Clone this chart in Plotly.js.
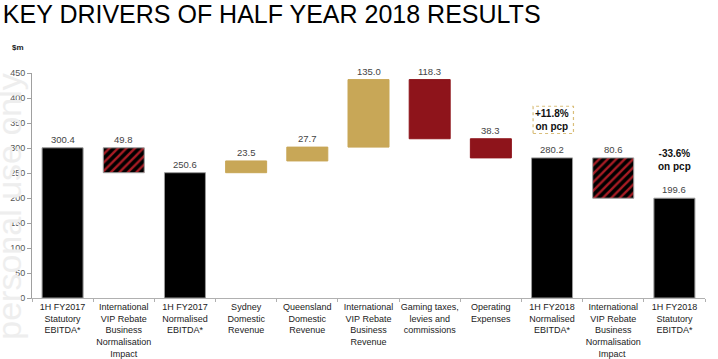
<!DOCTYPE html>
<html>
<head>
<meta charset="utf-8">
<script src="https://cdn.plot.ly/plotly-3.0.1.min.js"></script>
<style>html,body{margin:0;padding:0;background:#fff;}#chart{width:718px;height:359px;}</style>
</head>
<body>
<div id="chart"></div>
<script>
const categories = [
  "1H FY2017<br>Statutory<br>EBITDA*",
  "International<br>VIP Rebate<br>Business<br>Normalisation<br>Impact",
  "1H FY2017<br>Normalised<br>EBITDA*",
  "Sydney<br>Domestic<br>Revenue",
  "Queensland<br>Domestic<br>Revenue",
  "International<br>VIP Rebate<br>Business<br>Revenue",
  "Gaming taxes,<br>levies and<br>commissions",
  "Operating<br>Expenses",
  "1H FY2018<br>Normalised<br>EBITDA*",
  "International<br>VIP Rebate<br>Business<br>Normalisation<br>Impact ",
  "1H FY2018<br>Statutory<br>EBITDA*"
];
const values = [300.4, 49.8, 250.6, 23.5, 27.7, 135.0, 118.3, 38.3, 280.2, 80.6, 199.6];
const bases  = [0, 250.6, 0, 250.6, 274.1, 301.8, 318.5, 280.2, 0, 199.6, 0];
const kinds  = ["total","hatch","total","up","up","up","down","down","total","hatch","total"];
const pctNotes = [
  {cat: 8, text: "<b>+11.8%<br>on pcp</b>", y: 356, boxed: true},
  {cat: 10, text: "<b>-33.6%<br>on pcp</b>", y: 276, boxed: false}
];

const colorMap = {total: "#000000", hatch: "#000000", up: "#C8A757", down: "#8E141B"};
const lineMap = {total: "#9a9a9a", hatch: "#9a9a9a", up: "#C8A757", down: "#8E141B"};

const solidIdx = kinds.map((k, i) => i).filter(i => kinds[i] !== "hatch");
const hatchIdx = kinds.map((k, i) => i).filter(i => kinds[i] === "hatch");

const solidTrace = {
  type: "bar",
  x: solidIdx.map(i => categories[i]),
  y: solidIdx.map(i => values[i]),
  base: solidIdx.map(i => bases[i]),
  width: 0.67,
  marker: {
    color: solidIdx.map(i => colorMap[kinds[i]]),
    line: {color: solidIdx.map(i => lineMap[kinds[i]]), width: 1}
  },
  hoverinfo: "none"
};
const hatchTrace = {
  type: "bar",
  x: hatchIdx.map(i => categories[i]),
  y: hatchIdx.map(i => values[i]),
  base: hatchIdx.map(i => bases[i]),
  width: 0.67,
  marker: {
    color: "#000000",
    line: {color: "#9a9a9a", width: 1},
    pattern: {
      shape: "/",
      fillmode: "replace",
      bgcolor: "#000000",
      fgcolor: "#A81C24",
      fgopacity: 1,
      size: 6,
      solidity: 0.4
    }
  },
  hoverinfo: "none"
};

const annotations = values.map((v, i) => ({
  x: categories[i], y: bases[i] + v, text: v.toFixed(1),
  showarrow: false, yanchor: "bottom", yshift: 1,
  font: {family: "Liberation Sans, Arial, sans-serif", size: 9.5, color: "#444"}
}));
pctNotes.forEach(n => annotations.push({
  x: categories[n.cat], y: n.y, text: n.text, showarrow: false,
  font: {family: "Liberation Sans, Arial, sans-serif", size: 10, color: "#111"}
}));
annotations.push({
  xref: "paper", yref: "paper", x: -0.033, y: 1.113, xanchor: "left", yanchor: "middle",
  text: "<b>$m</b>", showarrow: false,
  font: {family: "Liberation Sans, Arial, sans-serif", size: 8, color: "#222"}
});
annotations.push({
  xref: "paper", yref: "paper", x: -0.003, y: 0.41, xanchor: "right", yanchor: "middle",
  text: "personal use only", textangle: -90, showarrow: false,
  font: {family: "Liberation Sans, Arial, sans-serif", size: 34, color: "#eeeeee"}
});

const shapes = pctNotes.filter(n => n.boxed).map(n => ({
  type: "rect", xref: "x", yref: "y",
  x0: n.cat - 0.31, x1: n.cat + 0.35, y0: n.y - 27, y1: n.y + 27.5,
  line: {color: "#D9BE7A", width: 1.2, dash: "dot"}, fillcolor: "rgba(0,0,0,0)"
}));

const layout = {
  width: 718, height: 359,
  margin: {l: 32, r: 13, t: 73, b: 61},
  paper_bgcolor: "#fff", plot_bgcolor: "#fff",
  showlegend: false,
  barmode: "overlay",
  title: {
    text: "KEY DRIVERS OF HALF YEAR 2018 RESULTS",
    x: 0.004, xanchor: "left", y: 0.985, yanchor: "top",
    font: {family: "Liberation Sans, Arial, sans-serif", size: 25, color: "#000"}
  },
  xaxis: {
    type: "category", categoryorder: "array", categoryarray: categories,
    showline: true, linecolor: "#b0b0b0", linewidth: 1,
    ticks: "outside", tickson: "boundaries", ticklen: 3, tickcolor: "#b0b0b0",
    tickfont: {family: "Liberation Sans, Arial, sans-serif", size: 9, color: "#222"},
    tickangle: 0, showgrid: false, zeroline: false, fixedrange: true
  },
  yaxis: {
    range: [0, 450], dtick: 50,
    showline: true, linecolor: "#a0a0a0", linewidth: 1,
    ticks: "outside", ticklen: 4, tickcolor: "#a0a0a0",
    tickfont: {family: "Liberation Sans, Arial, sans-serif", size: 9, color: "#555"},
    showgrid: false, zeroline: false, fixedrange: true
  },
  annotations: annotations,
  shapes: shapes
};

Plotly.newPlot("chart", [solidTrace, hatchTrace], layout, {staticPlot: true, displayModeBar: false});
</script>
</body>
</html>
